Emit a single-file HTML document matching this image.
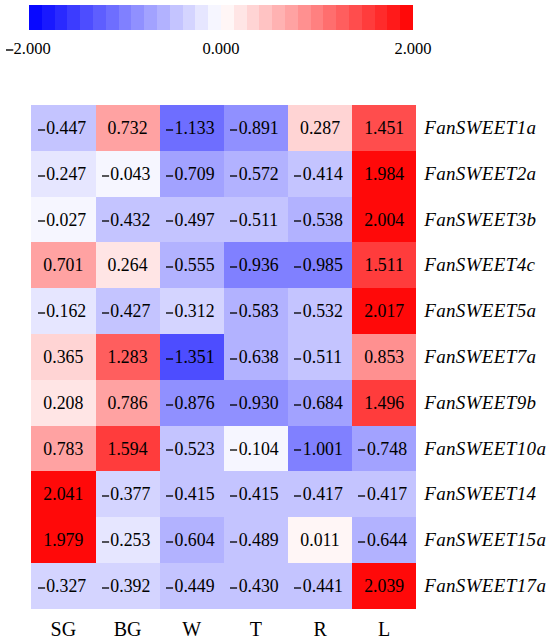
<!DOCTYPE html>
<html><head><meta charset="utf-8"><style>
html,body{margin:0;padding:0;background:#fff;}
body{width:550px;height:642px;position:relative;overflow:hidden;font-family:"Liberation Serif",serif;color:#000;}
.r,.c,.v,.rl,.cl,.lb{position:absolute;}
.lb{width:100px;text-align:center;font-size:16.5px;line-height:20px;}
.v{text-align:center;font-size:17.8px;white-space:nowrap;}
.rl{font-style:italic;font-size:19px;white-space:nowrap;letter-spacing:0.35px;}
.n{text-align:left;box-sizing:border-box;padding-left:6.3px;}
.d{display:inline-block;vertical-align:2.1px;}
.d2{display:inline-block;vertical-align:1.8px;}
.cl{text-align:center;font-size:20px;line-height:24px;}
</style></head><body>
<div class="r" style="left:29.00px;top:5.0px;width:13.10px;height:25.0px;background:rgb(8,8,255)"></div>
<div class="r" style="left:41.80px;top:5.0px;width:13.10px;height:25.0px;background:rgb(25,25,255)"></div>
<div class="r" style="left:54.60px;top:5.0px;width:13.10px;height:25.0px;background:rgb(42,42,255)"></div>
<div class="r" style="left:67.40px;top:5.0px;width:13.10px;height:25.0px;background:rgb(60,60,255)"></div>
<div class="r" style="left:80.20px;top:5.0px;width:13.10px;height:25.0px;background:rgb(77,77,255)"></div>
<div class="r" style="left:93.00px;top:5.0px;width:13.10px;height:25.0px;background:rgb(94,94,255)"></div>
<div class="r" style="left:105.80px;top:5.0px;width:13.10px;height:25.0px;background:rgb(110,110,255)"></div>
<div class="r" style="left:118.60px;top:5.0px;width:13.10px;height:25.0px;background:rgb(128,128,255)"></div>
<div class="r" style="left:131.40px;top:5.0px;width:13.10px;height:25.0px;background:rgb(144,144,255)"></div>
<div class="r" style="left:144.20px;top:5.0px;width:13.10px;height:25.0px;background:rgb(162,162,255)"></div>
<div class="r" style="left:157.00px;top:5.0px;width:13.10px;height:25.0px;background:rgb(178,178,255)"></div>
<div class="r" style="left:169.80px;top:5.0px;width:13.10px;height:25.0px;background:rgb(196,196,255)"></div>
<div class="r" style="left:182.60px;top:5.0px;width:13.10px;height:25.0px;background:rgb(212,212,255)"></div>
<div class="r" style="left:195.40px;top:5.0px;width:13.10px;height:25.0px;background:rgb(230,230,255)"></div>
<div class="r" style="left:208.20px;top:5.0px;width:13.10px;height:25.0px;background:rgb(246,246,255)"></div>
<div class="r" style="left:221.00px;top:5.0px;width:13.10px;height:25.0px;background:rgb(255,246,246)"></div>
<div class="r" style="left:233.80px;top:5.0px;width:13.10px;height:25.0px;background:rgb(255,229,229)"></div>
<div class="r" style="left:246.60px;top:5.0px;width:13.10px;height:25.0px;background:rgb(255,212,212)"></div>
<div class="r" style="left:259.40px;top:5.0px;width:13.10px;height:25.0px;background:rgb(255,195,195)"></div>
<div class="r" style="left:272.20px;top:5.0px;width:13.10px;height:25.0px;background:rgb(255,178,178)"></div>
<div class="r" style="left:285.00px;top:5.0px;width:13.10px;height:25.0px;background:rgb(255,162,162)"></div>
<div class="r" style="left:297.80px;top:5.0px;width:13.10px;height:25.0px;background:rgb(255,144,144)"></div>
<div class="r" style="left:310.60px;top:5.0px;width:13.10px;height:25.0px;background:rgb(255,128,128)"></div>
<div class="r" style="left:323.40px;top:5.0px;width:13.10px;height:25.0px;background:rgb(255,110,110)"></div>
<div class="r" style="left:336.20px;top:5.0px;width:13.10px;height:25.0px;background:rgb(255,94,94)"></div>
<div class="r" style="left:349.00px;top:5.0px;width:13.10px;height:25.0px;background:rgb(255,77,77)"></div>
<div class="r" style="left:361.80px;top:5.0px;width:13.10px;height:25.0px;background:rgb(255,60,60)"></div>
<div class="r" style="left:374.60px;top:5.0px;width:13.10px;height:25.0px;background:rgb(255,43,43)"></div>
<div class="r" style="left:387.40px;top:5.0px;width:13.10px;height:25.0px;background:rgb(255,26,26)"></div>
<div class="r" style="left:400.20px;top:5.0px;width:13.10px;height:25.0px;background:rgb(255,9,9)"></div>
<div class="lb" style="left:171.00px;top:38.5px">0.000</div>
<div class="lb" style="left:363.00px;top:38.5px">2.000</div>
<div class="lb" style="left:6px;top:38.5px;text-align:left;white-space:nowrap"><svg class="d2" width="7.6" height="4" viewBox="0 0 7.6 4"><rect x="0" y="1.3" width="7.3" height="1.4"/></svg>2.000</div>
<div class="c" style="left:31px;top:105px;width:65px;height:46px;background:rgb(196,196,255)"></div>
<div class="c" style="left:96px;top:105px;width:64px;height:46px;background:rgb(255,162,162)"></div>
<div class="c" style="left:160px;top:105px;width:64px;height:46px;background:rgb(110,110,255)"></div>
<div class="c" style="left:224px;top:105px;width:64px;height:46px;background:rgb(144,144,255)"></div>
<div class="c" style="left:288px;top:105px;width:64px;height:46px;background:rgb(255,212,212)"></div>
<div class="c" style="left:352px;top:105px;width:64px;height:46px;background:rgb(255,77,77)"></div>
<div class="v n" style="left:31.30px;top:106.00px;width:64.17px;height:45.79px;line-height:45.79px"><svg class="d" width="8.6" height="4" viewBox="0 0 8.6 4"><rect x="0" y="1.35" width="7.1" height="1.3"/></svg>0.447</div>
<div class="v" style="left:95.47px;top:106.00px;width:64.17px;height:45.79px;line-height:45.79px">0.732</div>
<div class="v n" style="left:159.64px;top:106.00px;width:64.17px;height:45.79px;line-height:45.79px"><svg class="d" width="8.6" height="4" viewBox="0 0 8.6 4"><rect x="0" y="1.35" width="7.1" height="1.3"/></svg>1.133</div>
<div class="v n" style="left:223.81px;top:106.00px;width:64.17px;height:45.79px;line-height:45.79px"><svg class="d" width="8.6" height="4" viewBox="0 0 8.6 4"><rect x="0" y="1.35" width="7.1" height="1.3"/></svg>0.891</div>
<div class="v" style="left:287.98px;top:106.00px;width:64.17px;height:45.79px;line-height:45.79px">0.287</div>
<div class="v" style="left:352.15px;top:106.00px;width:64.17px;height:45.79px;line-height:45.79px">1.451</div>
<div class="rl" style="left:424.2px;top:105.00px;height:45.79px;line-height:45.79px">FanSWEET1a</div>
<div class="c" style="left:31px;top:151px;width:65px;height:46px;background:rgb(230,230,255)"></div>
<div class="c" style="left:96px;top:151px;width:64px;height:46px;background:rgb(246,246,255)"></div>
<div class="c" style="left:160px;top:151px;width:64px;height:46px;background:rgb(162,162,255)"></div>
<div class="c" style="left:224px;top:151px;width:64px;height:46px;background:rgb(178,178,255)"></div>
<div class="c" style="left:288px;top:151px;width:64px;height:46px;background:rgb(196,196,255)"></div>
<div class="c" style="left:352px;top:151px;width:64px;height:46px;background:rgb(255,9,9)"></div>
<div class="v n" style="left:31.30px;top:151.79px;width:64.17px;height:45.79px;line-height:45.79px"><svg class="d" width="8.6" height="4" viewBox="0 0 8.6 4"><rect x="0" y="1.35" width="7.1" height="1.3"/></svg>0.247</div>
<div class="v n" style="left:95.47px;top:151.79px;width:64.17px;height:45.79px;line-height:45.79px"><svg class="d" width="8.6" height="4" viewBox="0 0 8.6 4"><rect x="0" y="1.35" width="7.1" height="1.3"/></svg>0.043</div>
<div class="v n" style="left:159.64px;top:151.79px;width:64.17px;height:45.79px;line-height:45.79px"><svg class="d" width="8.6" height="4" viewBox="0 0 8.6 4"><rect x="0" y="1.35" width="7.1" height="1.3"/></svg>0.709</div>
<div class="v n" style="left:223.81px;top:151.79px;width:64.17px;height:45.79px;line-height:45.79px"><svg class="d" width="8.6" height="4" viewBox="0 0 8.6 4"><rect x="0" y="1.35" width="7.1" height="1.3"/></svg>0.572</div>
<div class="v n" style="left:287.98px;top:151.79px;width:64.17px;height:45.79px;line-height:45.79px"><svg class="d" width="8.6" height="4" viewBox="0 0 8.6 4"><rect x="0" y="1.35" width="7.1" height="1.3"/></svg>0.414</div>
<div class="v" style="left:352.15px;top:151.79px;width:64.17px;height:45.79px;line-height:45.79px">1.984</div>
<div class="rl" style="left:424.2px;top:150.79px;height:45.79px;line-height:45.79px">FanSWEET2a</div>
<div class="c" style="left:31px;top:197px;width:65px;height:45px;background:rgb(246,246,255)"></div>
<div class="c" style="left:96px;top:197px;width:64px;height:45px;background:rgb(196,196,255)"></div>
<div class="c" style="left:160px;top:197px;width:64px;height:45px;background:rgb(196,196,255)"></div>
<div class="c" style="left:224px;top:197px;width:64px;height:45px;background:rgb(196,196,255)"></div>
<div class="c" style="left:288px;top:197px;width:64px;height:45px;background:rgb(178,178,255)"></div>
<div class="c" style="left:352px;top:197px;width:64px;height:45px;background:rgb(255,9,9)"></div>
<div class="v n" style="left:31.30px;top:197.58px;width:64.17px;height:45.79px;line-height:45.79px"><svg class="d" width="8.6" height="4" viewBox="0 0 8.6 4"><rect x="0" y="1.35" width="7.1" height="1.3"/></svg>0.027</div>
<div class="v n" style="left:95.47px;top:197.58px;width:64.17px;height:45.79px;line-height:45.79px"><svg class="d" width="8.6" height="4" viewBox="0 0 8.6 4"><rect x="0" y="1.35" width="7.1" height="1.3"/></svg>0.432</div>
<div class="v n" style="left:159.64px;top:197.58px;width:64.17px;height:45.79px;line-height:45.79px"><svg class="d" width="8.6" height="4" viewBox="0 0 8.6 4"><rect x="0" y="1.35" width="7.1" height="1.3"/></svg>0.497</div>
<div class="v n" style="left:223.81px;top:197.58px;width:64.17px;height:45.79px;line-height:45.79px"><svg class="d" width="8.6" height="4" viewBox="0 0 8.6 4"><rect x="0" y="1.35" width="7.1" height="1.3"/></svg>0.511</div>
<div class="v n" style="left:287.98px;top:197.58px;width:64.17px;height:45.79px;line-height:45.79px"><svg class="d" width="8.6" height="4" viewBox="0 0 8.6 4"><rect x="0" y="1.35" width="7.1" height="1.3"/></svg>0.538</div>
<div class="v" style="left:352.15px;top:197.58px;width:64.17px;height:45.79px;line-height:45.79px">2.004</div>
<div class="rl" style="left:424.2px;top:196.58px;height:45.79px;line-height:45.79px">FanSWEET3b</div>
<div class="c" style="left:31px;top:242px;width:65px;height:46px;background:rgb(255,162,162)"></div>
<div class="c" style="left:96px;top:242px;width:64px;height:46px;background:rgb(255,229,229)"></div>
<div class="c" style="left:160px;top:242px;width:64px;height:46px;background:rgb(178,178,255)"></div>
<div class="c" style="left:224px;top:242px;width:64px;height:46px;background:rgb(128,128,255)"></div>
<div class="c" style="left:288px;top:242px;width:64px;height:46px;background:rgb(128,128,255)"></div>
<div class="c" style="left:352px;top:242px;width:64px;height:46px;background:rgb(255,60,60)"></div>
<div class="v" style="left:31.30px;top:243.37px;width:64.17px;height:45.79px;line-height:45.79px">0.701</div>
<div class="v" style="left:95.47px;top:243.37px;width:64.17px;height:45.79px;line-height:45.79px">0.264</div>
<div class="v n" style="left:159.64px;top:243.37px;width:64.17px;height:45.79px;line-height:45.79px"><svg class="d" width="8.6" height="4" viewBox="0 0 8.6 4"><rect x="0" y="1.35" width="7.1" height="1.3"/></svg>0.555</div>
<div class="v n" style="left:223.81px;top:243.37px;width:64.17px;height:45.79px;line-height:45.79px"><svg class="d" width="8.6" height="4" viewBox="0 0 8.6 4"><rect x="0" y="1.35" width="7.1" height="1.3"/></svg>0.936</div>
<div class="v n" style="left:287.98px;top:243.37px;width:64.17px;height:45.79px;line-height:45.79px"><svg class="d" width="8.6" height="4" viewBox="0 0 8.6 4"><rect x="0" y="1.35" width="7.1" height="1.3"/></svg>0.985</div>
<div class="v" style="left:352.15px;top:243.37px;width:64.17px;height:45.79px;line-height:45.79px">1.511</div>
<div class="rl" style="left:424.2px;top:242.37px;height:45.79px;line-height:45.79px">FanSWEET4c</div>
<div class="c" style="left:31px;top:288px;width:65px;height:46px;background:rgb(230,230,255)"></div>
<div class="c" style="left:96px;top:288px;width:64px;height:46px;background:rgb(196,196,255)"></div>
<div class="c" style="left:160px;top:288px;width:64px;height:46px;background:rgb(212,212,255)"></div>
<div class="c" style="left:224px;top:288px;width:64px;height:46px;background:rgb(178,178,255)"></div>
<div class="c" style="left:288px;top:288px;width:64px;height:46px;background:rgb(196,196,255)"></div>
<div class="c" style="left:352px;top:288px;width:64px;height:46px;background:rgb(255,9,9)"></div>
<div class="v n" style="left:31.30px;top:289.16px;width:64.17px;height:45.79px;line-height:45.79px"><svg class="d" width="8.6" height="4" viewBox="0 0 8.6 4"><rect x="0" y="1.35" width="7.1" height="1.3"/></svg>0.162</div>
<div class="v n" style="left:95.47px;top:289.16px;width:64.17px;height:45.79px;line-height:45.79px"><svg class="d" width="8.6" height="4" viewBox="0 0 8.6 4"><rect x="0" y="1.35" width="7.1" height="1.3"/></svg>0.427</div>
<div class="v n" style="left:159.64px;top:289.16px;width:64.17px;height:45.79px;line-height:45.79px"><svg class="d" width="8.6" height="4" viewBox="0 0 8.6 4"><rect x="0" y="1.35" width="7.1" height="1.3"/></svg>0.312</div>
<div class="v n" style="left:223.81px;top:289.16px;width:64.17px;height:45.79px;line-height:45.79px"><svg class="d" width="8.6" height="4" viewBox="0 0 8.6 4"><rect x="0" y="1.35" width="7.1" height="1.3"/></svg>0.583</div>
<div class="v n" style="left:287.98px;top:289.16px;width:64.17px;height:45.79px;line-height:45.79px"><svg class="d" width="8.6" height="4" viewBox="0 0 8.6 4"><rect x="0" y="1.35" width="7.1" height="1.3"/></svg>0.532</div>
<div class="v" style="left:352.15px;top:289.16px;width:64.17px;height:45.79px;line-height:45.79px">2.017</div>
<div class="rl" style="left:424.2px;top:288.16px;height:45.79px;line-height:45.79px">FanSWEET5a</div>
<div class="c" style="left:31px;top:334px;width:65px;height:46px;background:rgb(255,212,212)"></div>
<div class="c" style="left:96px;top:334px;width:64px;height:46px;background:rgb(255,94,94)"></div>
<div class="c" style="left:160px;top:334px;width:64px;height:46px;background:rgb(77,77,255)"></div>
<div class="c" style="left:224px;top:334px;width:64px;height:46px;background:rgb(178,178,255)"></div>
<div class="c" style="left:288px;top:334px;width:64px;height:46px;background:rgb(196,196,255)"></div>
<div class="c" style="left:352px;top:334px;width:64px;height:46px;background:rgb(255,144,144)"></div>
<div class="v" style="left:31.30px;top:334.95px;width:64.17px;height:45.79px;line-height:45.79px">0.365</div>
<div class="v" style="left:95.47px;top:334.95px;width:64.17px;height:45.79px;line-height:45.79px">1.283</div>
<div class="v n" style="left:159.64px;top:334.95px;width:64.17px;height:45.79px;line-height:45.79px"><svg class="d" width="8.6" height="4" viewBox="0 0 8.6 4"><rect x="0" y="1.35" width="7.1" height="1.3"/></svg>1.351</div>
<div class="v n" style="left:223.81px;top:334.95px;width:64.17px;height:45.79px;line-height:45.79px"><svg class="d" width="8.6" height="4" viewBox="0 0 8.6 4"><rect x="0" y="1.35" width="7.1" height="1.3"/></svg>0.638</div>
<div class="v n" style="left:287.98px;top:334.95px;width:64.17px;height:45.79px;line-height:45.79px"><svg class="d" width="8.6" height="4" viewBox="0 0 8.6 4"><rect x="0" y="1.35" width="7.1" height="1.3"/></svg>0.511</div>
<div class="v" style="left:352.15px;top:334.95px;width:64.17px;height:45.79px;line-height:45.79px">0.853</div>
<div class="rl" style="left:424.2px;top:333.95px;height:45.79px;line-height:45.79px">FanSWEET7a</div>
<div class="c" style="left:31px;top:380px;width:65px;height:46px;background:rgb(255,229,229)"></div>
<div class="c" style="left:96px;top:380px;width:64px;height:46px;background:rgb(255,162,162)"></div>
<div class="c" style="left:160px;top:380px;width:64px;height:46px;background:rgb(144,144,255)"></div>
<div class="c" style="left:224px;top:380px;width:64px;height:46px;background:rgb(144,144,255)"></div>
<div class="c" style="left:288px;top:380px;width:64px;height:46px;background:rgb(162,162,255)"></div>
<div class="c" style="left:352px;top:380px;width:64px;height:46px;background:rgb(255,60,60)"></div>
<div class="v" style="left:31.30px;top:380.74px;width:64.17px;height:45.79px;line-height:45.79px">0.208</div>
<div class="v" style="left:95.47px;top:380.74px;width:64.17px;height:45.79px;line-height:45.79px">0.786</div>
<div class="v n" style="left:159.64px;top:380.74px;width:64.17px;height:45.79px;line-height:45.79px"><svg class="d" width="8.6" height="4" viewBox="0 0 8.6 4"><rect x="0" y="1.35" width="7.1" height="1.3"/></svg>0.876</div>
<div class="v n" style="left:223.81px;top:380.74px;width:64.17px;height:45.79px;line-height:45.79px"><svg class="d" width="8.6" height="4" viewBox="0 0 8.6 4"><rect x="0" y="1.35" width="7.1" height="1.3"/></svg>0.930</div>
<div class="v n" style="left:287.98px;top:380.74px;width:64.17px;height:45.79px;line-height:45.79px"><svg class="d" width="8.6" height="4" viewBox="0 0 8.6 4"><rect x="0" y="1.35" width="7.1" height="1.3"/></svg>0.684</div>
<div class="v" style="left:352.15px;top:380.74px;width:64.17px;height:45.79px;line-height:45.79px">1.496</div>
<div class="rl" style="left:424.2px;top:379.74px;height:45.79px;line-height:45.79px">FanSWEET9b</div>
<div class="c" style="left:31px;top:426px;width:65px;height:45px;background:rgb(255,162,162)"></div>
<div class="c" style="left:96px;top:426px;width:64px;height:45px;background:rgb(255,60,60)"></div>
<div class="c" style="left:160px;top:426px;width:64px;height:45px;background:rgb(196,196,255)"></div>
<div class="c" style="left:224px;top:426px;width:64px;height:45px;background:rgb(246,246,255)"></div>
<div class="c" style="left:288px;top:426px;width:64px;height:45px;background:rgb(128,128,255)"></div>
<div class="c" style="left:352px;top:426px;width:64px;height:45px;background:rgb(162,162,255)"></div>
<div class="v" style="left:31.30px;top:426.53px;width:64.17px;height:45.79px;line-height:45.79px">0.783</div>
<div class="v" style="left:95.47px;top:426.53px;width:64.17px;height:45.79px;line-height:45.79px">1.594</div>
<div class="v n" style="left:159.64px;top:426.53px;width:64.17px;height:45.79px;line-height:45.79px"><svg class="d" width="8.6" height="4" viewBox="0 0 8.6 4"><rect x="0" y="1.35" width="7.1" height="1.3"/></svg>0.523</div>
<div class="v n" style="left:223.81px;top:426.53px;width:64.17px;height:45.79px;line-height:45.79px"><svg class="d" width="8.6" height="4" viewBox="0 0 8.6 4"><rect x="0" y="1.35" width="7.1" height="1.3"/></svg>0.104</div>
<div class="v n" style="left:287.98px;top:426.53px;width:64.17px;height:45.79px;line-height:45.79px"><svg class="d" width="8.6" height="4" viewBox="0 0 8.6 4"><rect x="0" y="1.35" width="7.1" height="1.3"/></svg>1.001</div>
<div class="v n" style="left:352.15px;top:426.53px;width:64.17px;height:45.79px;line-height:45.79px"><svg class="d" width="8.6" height="4" viewBox="0 0 8.6 4"><rect x="0" y="1.35" width="7.1" height="1.3"/></svg>0.748</div>
<div class="rl" style="left:424.2px;top:425.53px;height:45.79px;line-height:45.79px">FanSWEET10a</div>
<div class="c" style="left:31px;top:471px;width:65px;height:46px;background:rgb(255,9,9)"></div>
<div class="c" style="left:96px;top:471px;width:64px;height:46px;background:rgb(212,212,255)"></div>
<div class="c" style="left:160px;top:471px;width:64px;height:46px;background:rgb(196,196,255)"></div>
<div class="c" style="left:224px;top:471px;width:64px;height:46px;background:rgb(196,196,255)"></div>
<div class="c" style="left:288px;top:471px;width:64px;height:46px;background:rgb(196,196,255)"></div>
<div class="c" style="left:352px;top:471px;width:64px;height:46px;background:rgb(196,196,255)"></div>
<div class="v" style="left:31.30px;top:472.32px;width:64.17px;height:45.79px;line-height:45.79px">2.041</div>
<div class="v n" style="left:95.47px;top:472.32px;width:64.17px;height:45.79px;line-height:45.79px"><svg class="d" width="8.6" height="4" viewBox="0 0 8.6 4"><rect x="0" y="1.35" width="7.1" height="1.3"/></svg>0.377</div>
<div class="v n" style="left:159.64px;top:472.32px;width:64.17px;height:45.79px;line-height:45.79px"><svg class="d" width="8.6" height="4" viewBox="0 0 8.6 4"><rect x="0" y="1.35" width="7.1" height="1.3"/></svg>0.415</div>
<div class="v n" style="left:223.81px;top:472.32px;width:64.17px;height:45.79px;line-height:45.79px"><svg class="d" width="8.6" height="4" viewBox="0 0 8.6 4"><rect x="0" y="1.35" width="7.1" height="1.3"/></svg>0.415</div>
<div class="v n" style="left:287.98px;top:472.32px;width:64.17px;height:45.79px;line-height:45.79px"><svg class="d" width="8.6" height="4" viewBox="0 0 8.6 4"><rect x="0" y="1.35" width="7.1" height="1.3"/></svg>0.417</div>
<div class="v n" style="left:352.15px;top:472.32px;width:64.17px;height:45.79px;line-height:45.79px"><svg class="d" width="8.6" height="4" viewBox="0 0 8.6 4"><rect x="0" y="1.35" width="7.1" height="1.3"/></svg>0.417</div>
<div class="rl" style="left:424.2px;top:471.32px;height:45.79px;line-height:45.79px">FanSWEET14</div>
<div class="c" style="left:31px;top:517px;width:65px;height:46px;background:rgb(255,9,9)"></div>
<div class="c" style="left:96px;top:517px;width:64px;height:46px;background:rgb(230,230,255)"></div>
<div class="c" style="left:160px;top:517px;width:64px;height:46px;background:rgb(178,178,255)"></div>
<div class="c" style="left:224px;top:517px;width:64px;height:46px;background:rgb(196,196,255)"></div>
<div class="c" style="left:288px;top:517px;width:64px;height:46px;background:rgb(255,246,246)"></div>
<div class="c" style="left:352px;top:517px;width:64px;height:46px;background:rgb(178,178,255)"></div>
<div class="v" style="left:31.30px;top:518.11px;width:64.17px;height:45.79px;line-height:45.79px">1.979</div>
<div class="v n" style="left:95.47px;top:518.11px;width:64.17px;height:45.79px;line-height:45.79px"><svg class="d" width="8.6" height="4" viewBox="0 0 8.6 4"><rect x="0" y="1.35" width="7.1" height="1.3"/></svg>0.253</div>
<div class="v n" style="left:159.64px;top:518.11px;width:64.17px;height:45.79px;line-height:45.79px"><svg class="d" width="8.6" height="4" viewBox="0 0 8.6 4"><rect x="0" y="1.35" width="7.1" height="1.3"/></svg>0.604</div>
<div class="v n" style="left:223.81px;top:518.11px;width:64.17px;height:45.79px;line-height:45.79px"><svg class="d" width="8.6" height="4" viewBox="0 0 8.6 4"><rect x="0" y="1.35" width="7.1" height="1.3"/></svg>0.489</div>
<div class="v" style="left:287.98px;top:518.11px;width:64.17px;height:45.79px;line-height:45.79px">0.011</div>
<div class="v n" style="left:352.15px;top:518.11px;width:64.17px;height:45.79px;line-height:45.79px"><svg class="d" width="8.6" height="4" viewBox="0 0 8.6 4"><rect x="0" y="1.35" width="7.1" height="1.3"/></svg>0.644</div>
<div class="rl" style="left:424.2px;top:517.11px;height:45.79px;line-height:45.79px">FanSWEET15a</div>
<div class="c" style="left:31px;top:563px;width:65px;height:46px;background:rgb(212,212,255)"></div>
<div class="c" style="left:96px;top:563px;width:64px;height:46px;background:rgb(212,212,255)"></div>
<div class="c" style="left:160px;top:563px;width:64px;height:46px;background:rgb(196,196,255)"></div>
<div class="c" style="left:224px;top:563px;width:64px;height:46px;background:rgb(196,196,255)"></div>
<div class="c" style="left:288px;top:563px;width:64px;height:46px;background:rgb(196,196,255)"></div>
<div class="c" style="left:352px;top:563px;width:64px;height:46px;background:rgb(255,9,9)"></div>
<div class="v n" style="left:31.30px;top:563.90px;width:64.17px;height:45.79px;line-height:45.79px"><svg class="d" width="8.6" height="4" viewBox="0 0 8.6 4"><rect x="0" y="1.35" width="7.1" height="1.3"/></svg>0.327</div>
<div class="v n" style="left:95.47px;top:563.90px;width:64.17px;height:45.79px;line-height:45.79px"><svg class="d" width="8.6" height="4" viewBox="0 0 8.6 4"><rect x="0" y="1.35" width="7.1" height="1.3"/></svg>0.392</div>
<div class="v n" style="left:159.64px;top:563.90px;width:64.17px;height:45.79px;line-height:45.79px"><svg class="d" width="8.6" height="4" viewBox="0 0 8.6 4"><rect x="0" y="1.35" width="7.1" height="1.3"/></svg>0.449</div>
<div class="v n" style="left:223.81px;top:563.90px;width:64.17px;height:45.79px;line-height:45.79px"><svg class="d" width="8.6" height="4" viewBox="0 0 8.6 4"><rect x="0" y="1.35" width="7.1" height="1.3"/></svg>0.430</div>
<div class="v n" style="left:287.98px;top:563.90px;width:64.17px;height:45.79px;line-height:45.79px"><svg class="d" width="8.6" height="4" viewBox="0 0 8.6 4"><rect x="0" y="1.35" width="7.1" height="1.3"/></svg>0.441</div>
<div class="v" style="left:352.15px;top:563.90px;width:64.17px;height:45.79px;line-height:45.79px">2.039</div>
<div class="rl" style="left:424.2px;top:562.90px;height:45.79px;line-height:45.79px">FanSWEET17a</div>
<div class="cl" style="left:31.30px;top:616.5px;width:64.17px">SG</div>
<div class="cl" style="left:95.47px;top:616.5px;width:64.17px">BG</div>
<div class="cl" style="left:159.64px;top:616.5px;width:64.17px">W</div>
<div class="cl" style="left:223.81px;top:616.5px;width:64.17px">T</div>
<div class="cl" style="left:287.98px;top:616.5px;width:64.17px">R</div>
<div class="cl" style="left:352.15px;top:616.5px;width:64.17px">L</div>
</body></html>
